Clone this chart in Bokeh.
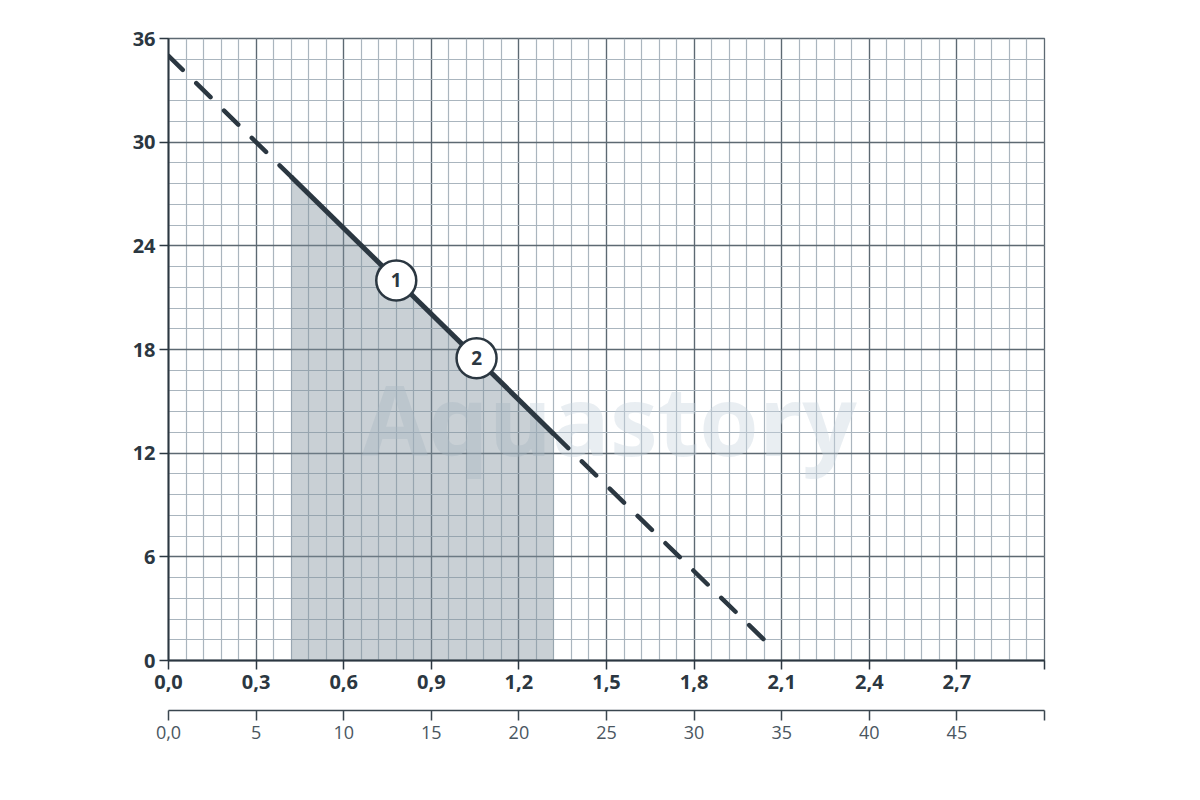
from bokeh.core.properties import value
from bokeh.embed import file_html
from bokeh.models import (ColumnDataSource, FixedTicker, Label, LinearAxis,
                          Range1d)
from bokeh.plotting import figure
from bokeh.resources import INLINE

# main curve (flow vs head)
curve_x = [0.0, 0.42, 1.32, 2.04]
curve_y = [35.0, 28.0, 13.1, 1.2]

# working range (solid part / shaded area)
work_x = [0.42, 1.32]
work_y = [28.0, 13.1]

# numbered markers on the curve
marker_x = [0.78, 1.055]
marker_y = [22.0, 17.5]
marker_text = ["1", "2"]

x_ticks = [0.0, 0.3, 0.6, 0.9, 1.2, 1.5, 1.8, 2.1, 2.4, 2.7, 3.0]
x_labels = ["0,0", "0,3", "0,6", "0,9", "1,2", "1,5", "1,8", "2,1", "2,4", "2,7", ""]
y_ticks = [0, 6, 12, 18, 24, 30, 36]
x2_ticks = [0, 5, 10, 15, 20, 25, 30, 35, 40, 45, 50]
x2_labels = ["0,0", "5", "10", "15", "20", "25", "30", "35", "40", "45", ""]

DARK = "#2b3741"
MAJOR = "#5d6972"
MINOR = "#aab5be"
FONT = "Open Sans"

p = figure(width=1184, height=784, frame_width=876, frame_height=622,
           x_range=Range1d(0, 3.0), y_range=Range1d(0, 36),
           output_backend="svg", toolbar_location=None, tools="",
           min_border_left=168, min_border_top=38, min_border_right=140,
           min_border_bottom=40,
           background_fill_color="white", border_fill_color="white")
p.outline_line_color = MAJOR
p.outline_line_width = 1.3

# ticks / grid
x_minor = [round(i * 0.06, 2) for i in range(51)]
y_minor = [round(i * 1.2, 1) for i in range(31)]
p.xaxis.ticker = FixedTicker(ticks=x_ticks, minor_ticks=x_minor)
p.yaxis.ticker = FixedTicker(ticks=y_ticks, minor_ticks=y_minor)
p.xaxis.major_label_overrides = dict(zip(x_ticks, x_labels))
p.yaxis.major_label_overrides = {t: str(t) for t in y_ticks}

for grid in (p.xgrid, p.ygrid):
    grid.grid_line_color = MAJOR
    grid.grid_line_width = 1.3
    grid.minor_grid_line_color = MINOR
    grid.minor_grid_line_width = 1.2

for ax in (p.xaxis, p.yaxis):
    ax.axis_line_color = DARK
    ax.axis_line_width = 2
    ax.major_tick_line_color = DARK
    ax.major_tick_line_width = 1.5
    ax.major_tick_out = 9
    ax.major_tick_in = 0
    ax.minor_tick_line_color = None
    ax.major_label_text_font = FONT
    ax.major_label_text_font_style = "bold"
    ax.major_label_text_font_size = "20px"
    ax.major_label_text_color = DARK
p.xaxis.major_label_standoff = 5
p.yaxis.major_label_standoff = 4
# empty label only to open the gap above the second scale
p.xaxis.axis_label = " "
p.xaxis.axis_label_text_font_size = "12px"
p.xaxis.axis_label_standoff = 2

# second (lower) scale
p.extra_x_ranges = {"x2": Range1d(0, 50)}
ax2 = LinearAxis(x_range_name="x2", ticker=FixedTicker(ticks=x2_ticks))
ax2.major_label_overrides = dict(zip(x2_ticks, x2_labels))
ax2.axis_line_color = "#3a464f"
ax2.axis_line_width = 1.5
ax2.major_tick_line_color = "#3a464f"
ax2.major_tick_line_width = 1.5
ax2.major_tick_out = 10
ax2.major_tick_in = 0
ax2.minor_tick_line_color = None
ax2.major_label_text_font = FONT
ax2.major_label_text_font_size = "18px"
ax2.major_label_text_color = "#4a565f"
ax2.major_label_standoff = 5
ax2.axis_label = " "
ax2.axis_label_text_font_size = "12px"
p.add_layout(ax2, "below")

# watermark
p.add_layout(Label(x=1.51, y=14.0, text="Aquastory", text_align="center",
                   text_baseline="middle", text_font=FONT,
                   text_font_style="bold", text_font_size="96px",
                   text_color="#c8d5df", text_alpha=0.4, level="underlay"))

# shaded working area
p.varea(x=work_x, y1=[0, 0], y2=work_y, fill_color="#7f8e9c", fill_alpha=0.42)

# curve: dashed outside working range, solid inside
dash_left = ColumnDataSource(dict(x=curve_x[:2], y=curve_y[:2]))
dash_right = ColumnDataSource(dict(x=curve_x[2:], y=curve_y[2:]))
p.line("x", "y", source=dash_left, line_color=DARK, line_width=4.5,
       line_dash="20 19", line_cap="round")
p.line("x", "y", source=dash_right, line_color=DARK, line_width=4.5,
       line_dash="20 19", line_cap="round")
p.line(work_x, work_y, line_color=DARK, line_width=5)

markers = ColumnDataSource(dict(x=marker_x, y=marker_y, t=marker_text))
p.scatter("x", "y", source=markers, size=40, fill_color="white",
          line_color=DARK, line_width=2.5)
p.text("x", "y", text="t", source=markers, text_align="center",
       text_baseline="middle", text_font=value(FONT), text_font_style="bold",
       text_font_size="19px", text_color=DARK)

open("out.html", "w").write(file_html(p, INLINE))
